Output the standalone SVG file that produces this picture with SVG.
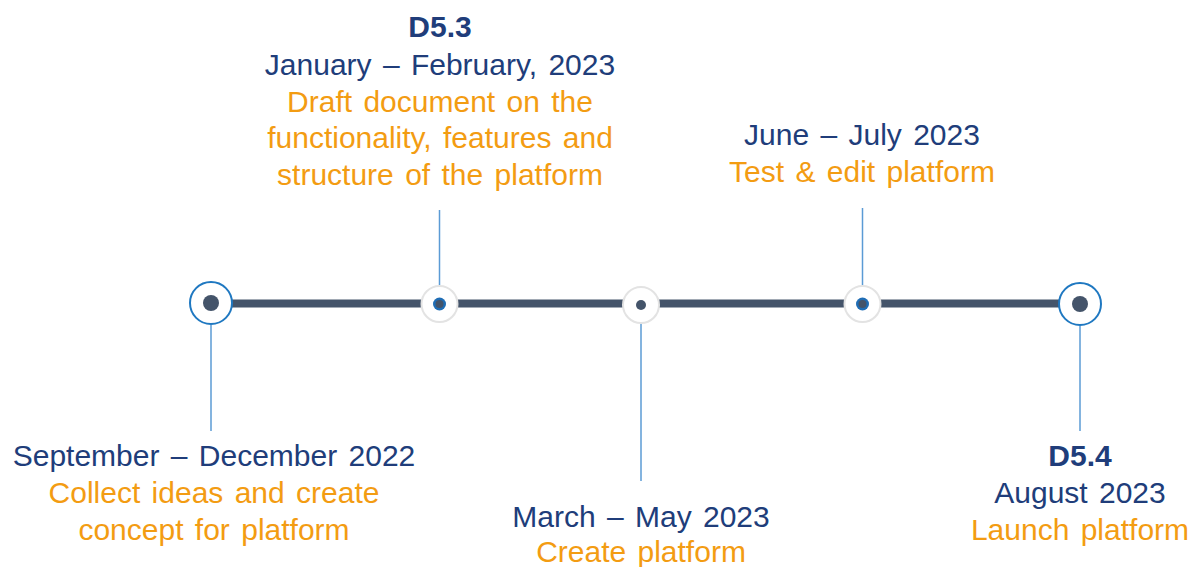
<svg xmlns="http://www.w3.org/2000/svg" width="1197" height="567" viewBox="0 0 1197 567">
<style>
text{font-family:"Liberation Sans",Arial,sans-serif;font-size:30px;text-anchor:middle;word-spacing:3px}
.d{fill:#203D7A}
.o{fill:#F39C12}
.b{font-weight:bold}
.conn{stroke:#5B9BD5;stroke-width:1.5;fill:none}
.ring{fill:#fff;stroke:#E3E3E3;stroke-width:2}
.bigring{fill:#fff;stroke:#1F78C1;stroke-width:2}
.dk{fill:#44546A}
.bl{fill:#1F6DB5}
</style>
<rect width="1197" height="567" fill="#fff"/>
<g id="connectors">
<line class="conn" x1="211" y1="325" x2="211" y2="431"/>
<line class="conn" x1="439.5" y1="210" x2="439.5" y2="285"/>
<line class="conn" x1="641" y1="324" x2="641" y2="481"/>
<line class="conn" x1="862.5" y1="208" x2="862.5" y2="285"/>
<line class="conn" x1="1080" y1="326" x2="1080" y2="431"/>
<line x1="211" y1="303.5" x2="1080" y2="303.5" stroke="#44546A" stroke-width="8"/>
</g>
<g id="n1">
<circle class="bigring" cx="211" cy="303" r="21"/>
<circle class="dk" cx="211" cy="303" r="8"/>
<text class="d" x="214" y="466">September – December 2022</text>
<text class="o" x="214" y="503">Collect ideas and create</text>
<text class="o" x="214" y="540">concept for platform</text>
</g>
<g id="n2">
<circle class="ring" cx="439.5" cy="304" r="18"/>
<circle class="bl" cx="439.5" cy="304" r="6.5"/>
<circle class="dk" cx="439.5" cy="304" r="4"/>
<text class="d b" x="440" y="37">D5.3</text>
<text class="d" x="440" y="75">January – February, 2023</text>
<text class="o" x="440" y="112">Draft document on the</text>
<text class="o" x="440" y="148">functionality, features and</text>
<text class="o" x="440" y="185">structure of the platform</text>
</g>
<g id="n3">
<circle class="ring" cx="641" cy="305" r="18"/>
<circle class="dk" cx="641" cy="305" r="5"/>
<text class="d" x="641" y="527">March – May 2023</text>
<text class="o" x="641" y="562">Create platform</text>
</g>
<g id="n4">
<circle class="ring" cx="862.5" cy="304" r="18"/>
<circle class="bl" cx="862.5" cy="304" r="6.5"/>
<circle class="dk" cx="862.5" cy="304" r="4"/>
<text class="d" x="862" y="145">June – July 2023</text>
<text class="o" x="862" y="182">Test &amp; edit platform</text>
</g>
<g id="n5">
<circle class="bigring" cx="1080" cy="304" r="21"/>
<circle class="dk" cx="1080" cy="304" r="8"/>
<text class="d b" x="1080" y="466">D5.4</text>
<text class="d" x="1080" y="503">August 2023</text>
<text class="o" x="1080" y="540">Launch platform</text>
</g>
</svg>
